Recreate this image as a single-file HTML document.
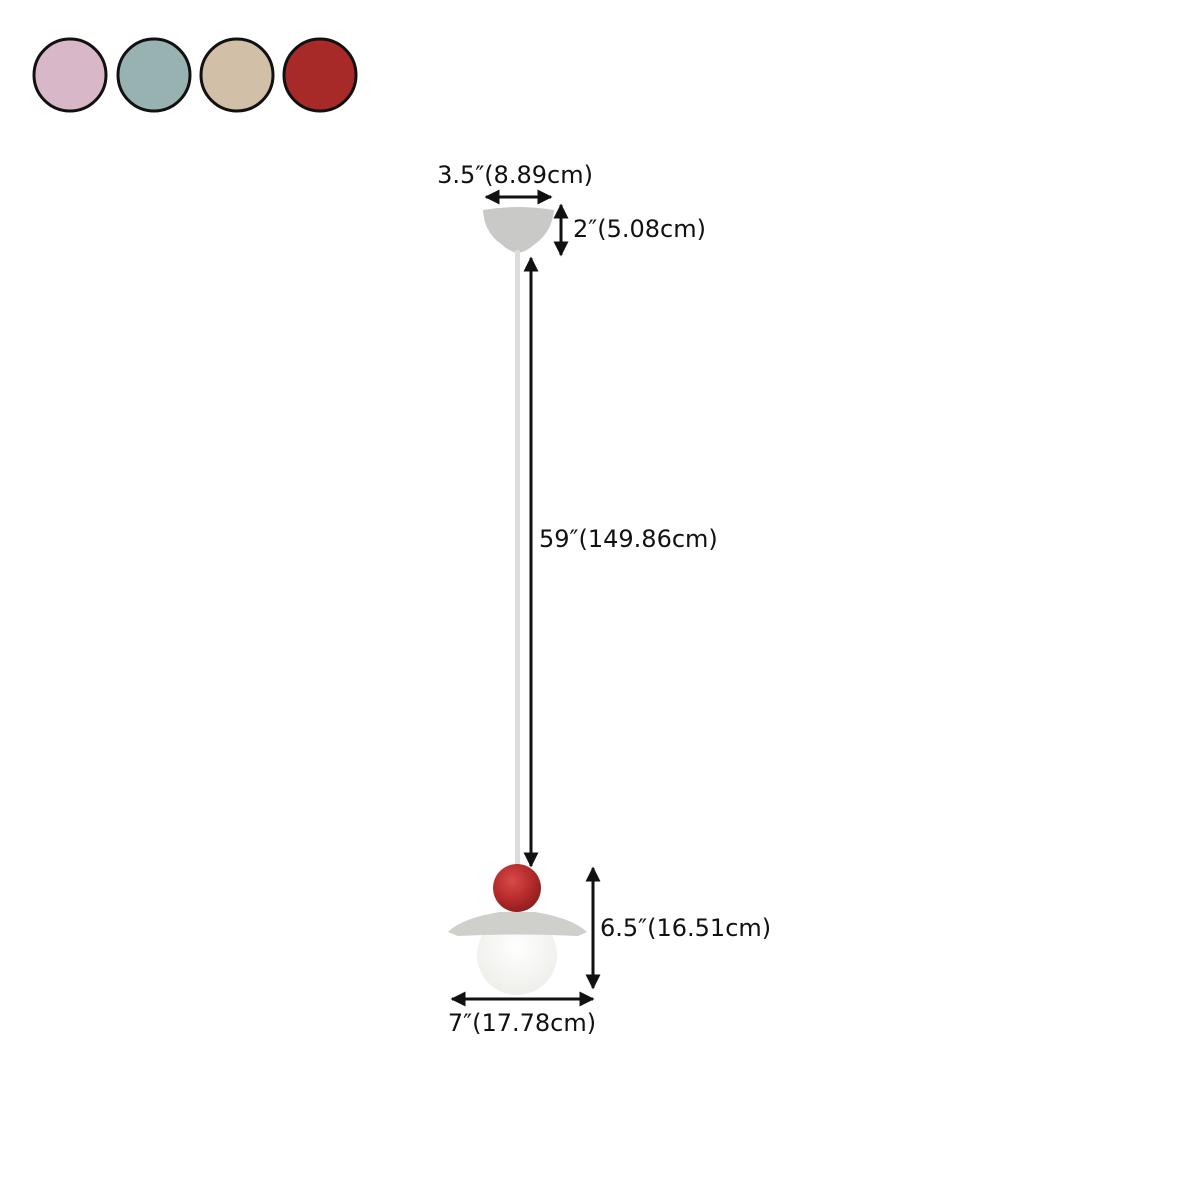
<!DOCTYPE html>
<html><head><style>
html,body{margin:0;padding:0;background:#fff;}
svg{display:block;}
text{font-family:"DejaVu Sans","Liberation Sans",sans-serif;font-size:24px;fill:#111;}
</style></head><body>
<svg width="1200" height="1200" viewBox="0 0 1200 1200">
<defs>
<marker id="a" viewBox="0 0 10 10" refX="9" refY="5" markerWidth="5" markerHeight="5" orient="auto-start-reverse"><path d="M0,0 L10,5 L0,10 z" fill="#111"/></marker>
<radialGradient id="rb" cx="0.4" cy="0.35" r="0.7"><stop offset="0" stop-color="#d8494a"/><stop offset="0.6" stop-color="#b32a2a"/><stop offset="1" stop-color="#8a1c1c"/></radialGradient>
<radialGradient id="gl" cx="0.5" cy="0.4" r="0.6"><stop offset="0" stop-color="#ffffff"/><stop offset="1" stop-color="#eeeeea"/></radialGradient>
</defs>
<circle cx="70" cy="75" r="36" fill="#d8b8c8" stroke="#111" stroke-width="3"/>
<circle cx="154" cy="75" r="36" fill="#98b2b2" stroke="#111" stroke-width="3"/>
<circle cx="237" cy="75" r="36" fill="#d2bfa8" stroke="#111" stroke-width="3"/>
<circle cx="320" cy="75" r="36" fill="#a82a28" stroke="#111" stroke-width="3"/>
<path d="M483,210 Q518,204 554,210 Q552,232 535,244 Q526,252 518,253 Q510,252 501,244 Q484,232 483,210 z" fill="#c9c9c7"/>
<rect x="515" y="250" width="5" height="620" fill="#dcdcda"/>
<circle cx="517" cy="955" r="40" fill="url(#gl)"/>
<path d="M448,932 Q462,918 500,912 L535,912 Q572,918 587,932 L578,936 Q518,933 458,936 z" fill="#cfcfcc"/>
<circle cx="517" cy="888" r="24" fill="url(#rb)"/>
<g stroke="#111" stroke-width="3" fill="none">
<line x1="486" y1="197" x2="551" y2="197" marker-start="url(#a)" marker-end="url(#a)"/>
<line x1="561" y1="205" x2="561" y2="255" marker-start="url(#a)" marker-end="url(#a)"/>
<line x1="531" y1="258" x2="531" y2="866" marker-start="url(#a)" marker-end="url(#a)"/>
<line x1="593" y1="868" x2="593" y2="988" marker-start="url(#a)" marker-end="url(#a)"/>
<line x1="452" y1="999" x2="593" y2="999" marker-start="url(#a)" marker-end="url(#a)"/>
</g>
<text x="515" y="183" text-anchor="middle">3.5″(8.89cm)</text>
<text x="573" y="237">2″(5.08cm)</text>
<text x="539" y="547">59″(149.86cm)</text>
<text x="600" y="936">6.5″(16.51cm)</text>
<text x="522" y="1031" text-anchor="middle">7″(17.78cm)</text>
</svg>
</body></html>
